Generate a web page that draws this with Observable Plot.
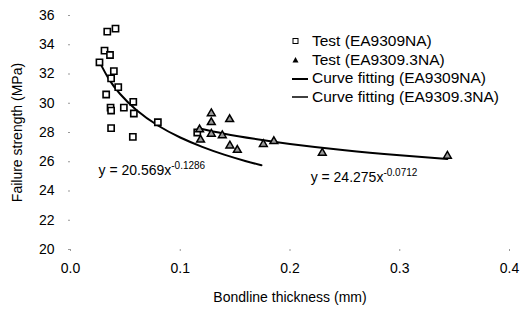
<!DOCTYPE html>
<html><head><meta charset="utf-8">
<script src="https://cdn.jsdelivr.net/npm/d3@7"></script>
<script src="https://cdn.jsdelivr.net/npm/@observablehq/plot@0.6"></script>
<style>
body{margin:0;background:#fff;}
#wrap{position:relative;width:527px;height:313px;font-family:"Liberation Sans",Arial,sans-serif;color:#000;}
#legend{position:absolute;left:288px;top:32px;font-size:15.5px;line-height:18.7px;}
#legend div{display:flex;align-items:center;height:18.7px;white-space:nowrap;}
#legend svg{width:24px;height:14px;flex:none;}
</style></head><body><div id="wrap"></div>
<script>
// Test data EA9309NA (squares)
const sqX = [0.0335,0.041,0.031,0.036,0.0264,0.0395,0.037,0.0435,0.0325,0.0365,0.037,0.0486,0.0572,0.0577,0.037,0.0568,0.0796,0.1155];
const sqY = [34.9,35.1,33.6,33.3,32.8,32.2,31.7,31.1,30.6,29.7,29.5,29.7,30.1,29.3,28.3,27.7,28.7,28.0];
// Test data EA9309.3NA (triangles)
const trX = [0.1283,0.1283,0.145,0.1176,0.1185,0.1283,0.1383,0.1452,0.152,0.1757,0.1853,0.2294,0.3434];
const trY = [29.3,28.7,28.9,28.2,27.5,27.9,27.8,27.1,26.8,27.2,27.4,26.6,26.4];
// Fitted curves
const c1X = [0.0264,0.035,0.045,0.06,0.08,0.10,0.12,0.14,0.16,0.174];
const c1Y = [32.83,31.65,30.65,29.54,28.46,27.66,27.02,26.49,26.04,25.76];
const c2X = [0.1176,0.14,0.17,0.2,0.25,0.3,0.3434];
const c2Y = [28.27,27.92,27.54,27.22,26.79,26.45,26.19];
// Equation labels
const eqText = ["y = 20.569x^-0.1286", "y = 24.275x^-0.0712"];
const eqX = [0.0255, 0.2188];
const eqY = [25.06, 24.6];
// Ticks
const xTicks = [0, 0.1, 0.2, 0.3, 0.4];
const yTicks = [20, 22, 24, 26, 28, 30, 32, 34, 36];
const legendLabels = ["Test (EA9309NA)", "Test (EA9309.3NA)", "Curve fitting (EA9309NA)", "Curve fitting (EA9309.3NA)"];

const sq = sqX.map((x, i) => ({x, y: sqY[i]}));
const tr = trX.map((x, i) => ({x, y: trY[i]}));
const c1 = c1X.map((x, i) => ({x, y: c1Y[i]}));
const c2 = c2X.map((x, i) => ({x, y: c2Y[i]}));
const eq = eqText.map((t, i) => ({t, x: eqX[i], y: eqY[i]}));

const chart = Plot.plot({
  width: 527, height: 313,
  marginLeft: 70, marginRight: 18, marginTop: 15, marginBottom: 64,
  style: {fontFamily: '"Liberation Sans", Arial, sans-serif', fontSize: "14px", color: "#000", background: "#fff"},
  x: {domain: [0, 0.4]},
  y: {domain: [20, 36]},
  marks: [
    Plot.axisY({ticks: yTicks, tickFormat: d => d.toString(), tickSize: 2, tickPadding: 14, stroke: "#999", fontSize: 14,
      label: "Failure strength (MPa)", labelAnchor: "center", labelArrow: "none", labelOffset: 58}),
    Plot.axisX({ticks: xTicks, tickFormat: d => d.toFixed(1), tickSize: 2, tickPadding: 12, stroke: "#999", fontSize: 14,
      label: "Bondline thickness (mm)", labelAnchor: "center", labelArrow: "none", labelOffset: 52}),
    Plot.line(c1, {x: "x", y: "y", stroke: "#000", strokeWidth: 2, curve: "natural"}),
    Plot.line(c2, {x: "x", y: "y", stroke: "#000", strokeWidth: 2, curve: "natural"}),
    Plot.dot(sq, {x: "x", y: "y", symbol: "square", r: 3.5, stroke: "#000", strokeWidth: 1.6, fill: "#fff"}),
    Plot.dot(tr, {x: "x", y: "y", symbol: "triangle", r: 2.9, stroke: "#000", strokeWidth: 1.5, fill: "#999"}),
    Plot.text(eq, {x: "x", y: "y", text: "t", textAnchor: "start", lineAnchor: "bottom", fontSize: 14, fill: "#000"})
  ]
});

// superscripts for equations
d3.select(chart).selectAll("text").each(function() {
  const s = this.textContent;
  if (s.includes("^")) {
    const [base, exp] = s.split("^");
    const el = d3.select(this);
    el.text(base);
    el.append("tspan").attr("dy", "-0.6em").attr("font-size", "10px").text(exp);
  }
});

const wrap = document.getElementById("wrap");
wrap.appendChild(chart);

// legend
const leg = document.createElement("div");
leg.id = "legend";
const icons = [
  '<svg viewBox="0 0 24 14"><rect x="5" y="4.5" width="5" height="5" fill="#fff" stroke="#000" stroke-width="1"/></svg>',
  '<svg viewBox="0 0 24 14"><path d="M7.5 4 L10.5 9.5 L4.5 9.5 Z" fill="#000"/></svg>',
  '<svg viewBox="0 0 24 14"><line x1="4" y1="7" x2="20" y2="7" stroke="#000" stroke-width="2"/></svg>',
  '<svg viewBox="0 0 24 14"><line x1="4" y1="7" x2="20" y2="7" stroke="#000" stroke-width="1.5"/></svg>'
];
legendLabels.forEach((l, i) => {
  const row = document.createElement("div");
  row.innerHTML = icons[i] + "<span>" + l + "</span>";
  leg.appendChild(row);
});
wrap.appendChild(leg);
</script>
</body></html>
